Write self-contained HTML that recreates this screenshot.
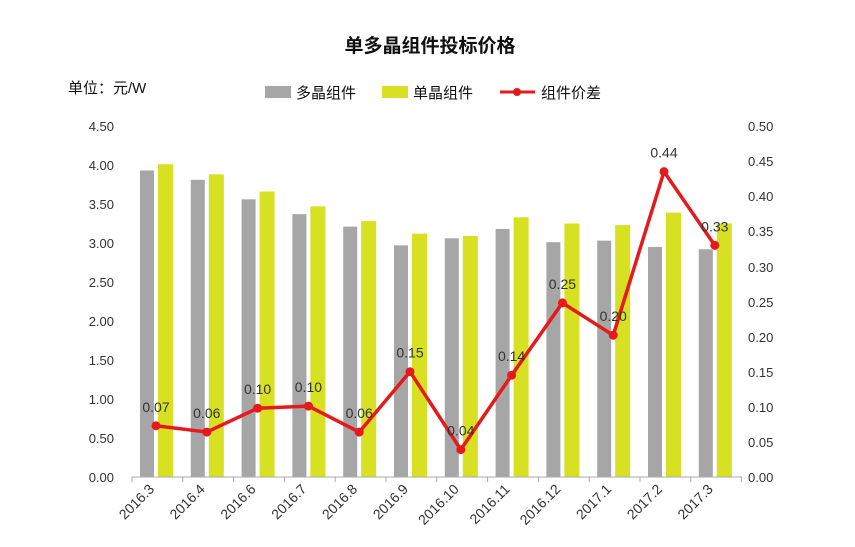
<!DOCTYPE html>
<html><head><meta charset="utf-8"><style>
html,body{margin:0;padding:0;background:#fff;}
text{font-family:"Liberation Sans","Noto Sans CJK SC",sans-serif;}
</style></head><body>
<svg width="855" height="542" viewBox="0 0 855 542" xmlns="http://www.w3.org/2000/svg">
<rect width="855" height="542" fill="#fff"/>
<text x="430" y="52" font-size="19" font-weight="bold" text-anchor="middle" fill="#111">单多晶组件投标价格</text>
<text x="68" y="93" font-size="15" fill="#111">单位：元/W</text>
<rect x="265" y="86" width="26" height="12" fill="#a6a6a6"/>
<text x="296" y="98" font-size="15" fill="#111">多晶组件</text>
<rect x="382" y="86" width="26" height="12" fill="#d7e021"/>
<text x="413" y="98" font-size="15" fill="#111">单晶组件</text>
<line x1="500" y1="92" x2="535" y2="92" stroke="#e41a1c" stroke-width="3"/>
<circle cx="517" cy="92" r="4" fill="#e41a1c"/>
<text x="541" y="98" font-size="15" fill="#111">组件价差</text>
<g font-size="13" fill="#333">
<g text-anchor="end">
<text x="114" y="482">0.00</text><text x="114" y="443">0.50</text><text x="114" y="404">1.00</text>
<text x="114" y="365">1.50</text><text x="114" y="326">2.00</text><text x="114" y="287">2.50</text>
<text x="114" y="248">3.00</text><text x="114" y="209">3.50</text><text x="114" y="170">4.00</text>
<text x="114" y="131">4.50</text>
</g>
<g>
<text x="748" y="482">0.00</text><text x="748" y="447">0.05</text><text x="748" y="412">0.10</text>
<text x="748" y="377">0.15</text><text x="748" y="342">0.20</text><text x="748" y="307">0.25</text>
<text x="748" y="272">0.30</text><text x="748" y="236">0.35</text><text x="748" y="201">0.40</text>
<text x="748" y="166">0.45</text><text x="748" y="131">0.50</text>
</g>
</g>
<g id="bars"></g>
<line x1="132" y1="477" x2="742" y2="477" stroke="#aaa"/>
<g id="ticks" stroke="#aaa"></g>
<g id="line"></g>
<g id="labels" font-size="14" fill="#333"></g>
<script>
var g=[3.93,3.81,3.56,3.37,3.21,2.97,3.06,3.18,3.01,3.03,2.95,2.92];
var yv=[4.01,3.88,3.66,3.47,3.28,3.12,3.09,3.33,3.25,3.23,3.39,3.25];
var d=[0.07,0.06,0.10,0.10,0.06,0.15,0.04,0.14,0.25,0.20,0.44,0.33];
var dv=[0.073,0.064,0.098,0.101,0.064,0.15,0.039,0.145,0.248,0.202,0.435,0.33];
var cats=["2016.3","2016.4","2016.6","2016.7","2016.8","2016.9","2016.10","2016.11","2016.12","2017.1","2017.2","2017.3"];
var ns="http://www.w3.org/2000/svg",B=document.getElementById("bars"),L=document.getElementById("line"),T=document.getElementById("labels"),K=document.getElementById("ticks");
function el(t,a,p){var e=document.createElementNS(ns,t);for(var k in a)e.setAttribute(k,a[k]);p.appendChild(e);return e;}
var pts=[];
for(var i=0;i<=12;i++){var x=132+50.8*i;el("line",{x1:x,y1:477,x2:x,y2:482},K);}
for(var i=0;i<12;i++){
 var c=157+50.8*i;
 var h=g[i]*78;el("rect",{x:c-17,y:477-h,width:14,height:h,fill:"#a6a6a6"},B);
 h=yv[i]*78;el("rect",{x:c+1,y:477-h,width:15,height:h,fill:"#d7e021"},B);
 var px=c-1,py=477-dv[i]*702;pts.push(px+","+py);
 var t=el("text",{x:c-2,y:490,"text-anchor":"end",transform:"rotate(-45 "+(c-2)+" 490)"},T);t.textContent=cats[i];
 var lt=el("text",{x:px,y:py-14,"text-anchor":"middle"},T);lt.textContent=d[i].toFixed(2);
}
el("polyline",{points:pts.join(" "),fill:"none",stroke:"#e41a1c","stroke-width":3.5,"stroke-linejoin":"round"},L);
pts.forEach(function(p){var a=p.split(",");el("circle",{cx:a[0],cy:a[1],r:4.5,fill:"#e41a1c"},L);});
</script>
</svg>
</body></html>
